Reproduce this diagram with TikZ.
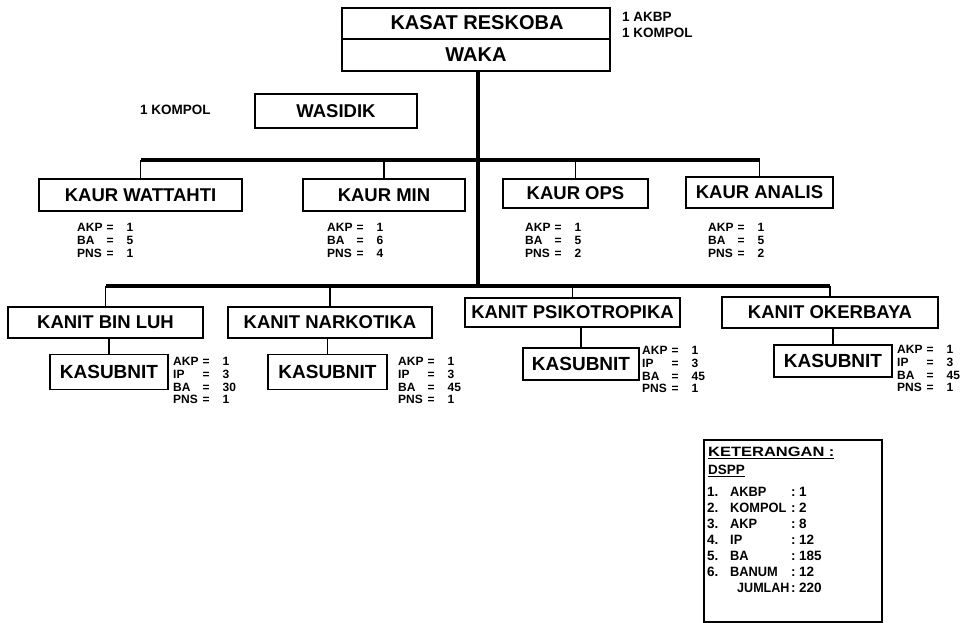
\documentclass[tikz,border=0pt]{standalone}
\usepackage{fontspec}
\usepackage{graphicx}
\setmainfont{Liberation Sans}
\newcommand{\sline}[2]{\makebox[29.5pt][l]{#1}\makebox[20pt][l]{=}#2}
\newcommand{\lrow}[4]{\makebox[23pt][l]{#1}\makebox[61pt][l]{\scalebox{0.95}[1]{#2}}\makebox[8pt][l]{#3}#4}
\begin{document}
\begin{tikzpicture}[x=1pt,y=-1pt,
  box/.style={draw,line width=1.8pt,inner sep=0pt,font=\bfseries\fontsize{18.5}{20}\selectfont},
  plain/.style={inner sep=0pt,font=\bfseries\fontsize{13.5}{16}\selectfont},
  head/.style={inner sep=0pt,font=\bfseries\fontsize{20}{22}\selectfont},
  stats/.style={inner sep=0pt,anchor=north west,align=left,font=\bfseries\fontsize{12}{12.8}\selectfont},
  legrow/.style={inner sep=0pt,anchor=west,font=\bfseries\fontsize{13.5}{15}\selectfont},
  bus/.style={line width=3.6pt},
  drop/.style={line width=1.8pt}]
\useasboundingbox (0,0) rectangle (966,622);
\fill[white] (0,0) rectangle (966,622);

% top box
\node[box,minimum width=268pt,minimum height=63pt] (top) at (476,39.5) {};
\draw[line width=1.2pt] (top.west |- 0,39) -- (top.east |- 0,39);
\node[head] (kasat) at (477,23) {KASAT RESKOBA};
\node[head] (waka) at (476,55) {WAKA};
\node[plain,anchor=west,align=left] (topnote) at (622,25) {1 AKBP\\1 KOMPOL};

% wasidik
\node[box,minimum width=162pt,minimum height=34pt] (wasidik) at (336,111) {WASIDIK};
\node[plain,anchor=west] (kompol) at (140,110) {1 KOMPOL};

% kaur row
\node[box,minimum width=203pt,minimum height=32pt] (wat) at (140.5,195) {KAUR WATTAHTI};
\node[box,minimum width=162pt,minimum height=32pt] (min) at (384,195) {KAUR MIN};
\node[box,minimum width=145pt,minimum height=29pt] (ops) at (575.5,193.5) {KAUR OPS};
\node[box,minimum width=147pt,minimum height=31pt] (ana) at (759.5,192.5) {KAUR ANALIS};

\node[stats] (s1) at (77,223) {\sline{AKP}{1}\\\sline{BA}{5}\\\sline{PNS}{1}};
\node[stats] (s2) at (327,223) {\sline{AKP}{1}\\\sline{BA}{6}\\\sline{PNS}{4}};
\node[stats] (s3) at (525,223) {\sline{AKP}{1}\\\sline{BA}{5}\\\sline{PNS}{2}};
\node[stats] (s4) at (708,223) {\sline{AKP}{1}\\\sline{BA}{5}\\\sline{PNS}{2}};

% kanit row
\node[box,minimum width=195pt,minimum height=31pt] (binluh) at (105.5,322.5) {KANIT BIN LUH};
\node[box,minimum width=204pt,minimum height=31pt] (nark) at (330,322.5) {KANIT NARKOTIKA};
\node[box,minimum width=215pt,minimum height=29pt] (psiko) at (572.5,312.5) {KANIT PSIKOTROPIKA};
\node[box,minimum width=216pt,minimum height=31pt] (oker) at (830,312.5) {KANIT OKERBAYA};

% kasubnit
\node[box,minimum width=118pt,minimum height=35pt,font=\bfseries\fontsize{19}{21}\selectfont] (sub1) at (109,372) {KASUBNIT};
\node[box,minimum width=119pt,minimum height=35pt,font=\bfseries\fontsize{19}{21}\selectfont] (sub2) at (327.5,372) {KASUBNIT};
\node[box,minimum width=116pt,minimum height=32pt,font=\bfseries\fontsize{19}{21}\selectfont] (sub3) at (581,364) {KASUBNIT};
\node[box,minimum width=118pt,minimum height=32pt,font=\bfseries\fontsize{19}{21}\selectfont] (sub4) at (833,361) {KASUBNIT};

\node[stats] (t1) at (173,357) {\sline{AKP}{1}\\\sline{IP}{3}\\\sline{BA}{30}\\\sline{PNS}{1}};
\node[stats] (t2) at (398,357) {\sline{AKP}{1}\\\sline{IP}{3}\\\sline{BA}{45}\\\sline{PNS}{1}};
\node[stats] (t3) at (642,346) {\sline{AKP}{1}\\\sline{IP}{3}\\\sline{BA}{45}\\\sline{PNS}{1}};
\node[stats] (t4) at (897,345) {\sline{AKP}{1}\\\sline{IP}{3}\\\sline{BA}{45}\\\sline{PNS}{1}};

% connectors
\coordinate (j1) at (478,160);
\coordinate (j2) at (478,286);
\draw[bus] (top.south -| j1) -- (j2);
\draw[bus] (wat.north |- j1) -- (ana.north |- j1);
\foreach \n in {wat,min,ops,ana} \draw[drop] (\n.north |- j1) -- (\n.north);
\draw[bus] (binluh.north |- j2) -- (oker.north |- j2);
\foreach \n in {binluh,nark,psiko,oker} \draw[drop] (\n.north |- j2) -- (\n.north);
\draw[drop] (binluh.south -| sub1.north) -- (sub1.north);
\draw[drop] (nark.south -| sub2.north) -- (sub2.north);
\draw[drop] (psiko.south -| sub3.north) -- (sub3.north);
\draw[drop] (oker.south -| sub4.north) -- (sub4.north);

% legend
\node[draw,line width=1.5pt,minimum width=178pt,minimum height=182pt,inner sep=0pt] (leg) at (793,531) {};
\node[legrow] (lk) at (708,453) {\scalebox{1.22}[1]{\underline{KETERANGAN :}}};
\node[legrow] (ld) at (708,471) {\underline{DSPP}};
\node[legrow] (l1) at (707,492) {\lrow{1.}{AKBP}{:}{1}};
\node[legrow] (l2) at (707,508) {\lrow{2.}{KOMPOL}{:}{2}};
\node[legrow] (l3) at (707,524) {\lrow{3.}{AKP}{:}{8}};
\node[legrow] (l4) at (707,540) {\lrow{4.}{IP}{:}{12}};
\node[legrow] (l5) at (707,556) {\lrow{5.}{BA}{:}{185}};
\node[legrow] (l6) at (707,572) {\lrow{6.}{BANUM}{:}{12}};
\node[legrow] (l7) at (737,588) {\makebox[54pt][l]{\scalebox{0.93}[1]{JUMLAH}}\makebox[8pt][l]{:}220};
\end{tikzpicture}
\end{document}
